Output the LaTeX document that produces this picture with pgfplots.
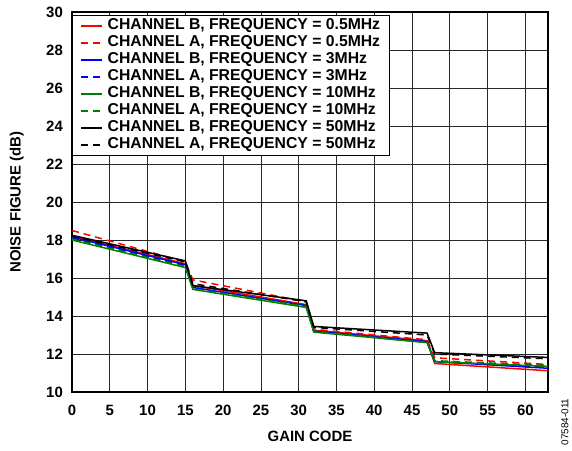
\documentclass[border=0pt]{standalone}
\usepackage{fontspec}
\setmainfont{Liberation Sans}
\usepackage{pgfplots}
\pgfplotsset{compat=1.18}

\definecolor{chgreen}{RGB}{0,128,0}
\definecolor{gridgray}{RGB}{40,40,40}
\newcommand{\legfont}{\fontsize{15.8}{17}\selectfont}

\begin{document}
{\fontsize{15}{17}\selectfont\bfseries
\begin{tikzpicture}
\begin{axis}[
  name=ax,
  scale only axis,
  width=476bp, height=380bp,
  xmin=0, xmax=63, ymin=10, ymax=30,
  xtick={0,5,...,60}, ytick={10,12,...,30},
  grid=major,
  grid style={gridgray, line width=0.7pt},
  axis line style={black, line width=1.1pt},
  major tick length=0pt,
  /pgf/number format/assume math mode=true,
  xticklabel style={yshift=-8bp},
  yticklabel style={xshift=-4bp},
  xlabel={GAIN CODE},
  ylabel={NOISE FIGURE (dB)},
  xlabel style={at={(axis description cs:0.5,-0.116)}, anchor=center},
  ylabel style={at={(axis description cs:-0.116,0.5)}, anchor=center},
  legend cell align={left},
  legend style={
    at={(0,1)}, anchor=north west, yshift=-3bp,
    draw=black, fill=white,
    inner xsep=8bp, row sep=0pt, column sep=3bp,
    nodes={inner sep=1.5bp, text height=10.5bp, text depth=3.5bp},
  },
  legend image code/.code={\draw[#1, line width=2bp] (0bp,0bp) -- (21bp,0bp);},
  every axis plot/.append style={line width=1.5pt},
]
% channel B, 0.5 MHz
\addplot[red] coordinates {(0,18.2) (15,16.75) (16,15.6) (31,14.6) (32,13.25) (47,12.7) (48,11.5) (63,11.12)};
\addlegendentry{\legfont CHANNEL B, FREQUENCY = 0.5MHz}
% channel A, 0.5 MHz
\addplot[red, dash pattern=on 7bp off 5bp] coordinates {(0,18.5) (15,16.85) (16,15.9) (31,14.75) (32,13.3) (47,12.75) (48,11.8) (63,11.45)};
\addlegendentry{\legfont CHANNEL A, FREQUENCY = 0.5MHz}
% channel B, 3 MHz
\addplot[blue] coordinates {(0,18.15) (15,16.7) (16,15.5) (31,14.55) (32,13.2) (47,12.65) (48,11.6) (63,11.25)};
\addlegendentry{\legfont CHANNEL B, FREQUENCY = 3MHz}
% channel A, 3 MHz
\addplot[blue, dash pattern=on 7bp off 5bp] coordinates {(0,18.1) (15,16.65) (16,15.5) (31,14.5) (32,13.2) (47,12.65) (48,11.6) (63,11.3)};
\addlegendentry{\legfont CHANNEL A, FREQUENCY = 3MHz}
% channel B, 10 MHz
\addplot[chgreen] coordinates {(0,18.0) (15,16.55) (16,15.4) (31,14.45) (32,13.15) (47,12.6) (48,11.6) (63,11.35)};
\addlegendentry{\legfont CHANNEL B, FREQUENCY = 10MHz}
% channel A, 10 MHz
\addplot[chgreen, dash pattern=on 7bp off 5bp] coordinates {(0,18.05) (15,16.6) (16,15.45) (31,14.5) (32,13.2) (47,12.6) (48,11.65) (63,11.4)};
\addlegendentry{\legfont CHANNEL A, FREQUENCY = 10MHz}
% channel B, 50 MHz
\addplot[black] coordinates {(0,18.25) (15,16.9) (16,15.6) (31,14.8) (32,13.45) (47,13.1) (48,12.07) (63,11.82)};
\addlegendentry{\legfont CHANNEL B, FREQUENCY = 50MHz}
% channel A, 50 MHz
\addplot[black, dash pattern=on 7bp off 5bp] coordinates {(0,18.2) (15,16.85) (16,15.7) (31,14.75) (32,13.4) (47,13.0) (48,12.0) (63,11.75)};
\addlegendentry{\legfont CHANNEL A, FREQUENCY = 50MHz}
\end{axis}
\node[rotate=90, font=\fontsize{10}{11}\selectfont\mdseries] at ([shift={(17bp,-30bp)}]ax.south east) {07584-011};
\pgfresetboundingbox
\path[use as bounding box] ([shift={(-72bp,-58bp)}]ax.south west) rectangle ([shift={(24bp,12bp)}]ax.north east);
\end{tikzpicture}}
\end{document}
